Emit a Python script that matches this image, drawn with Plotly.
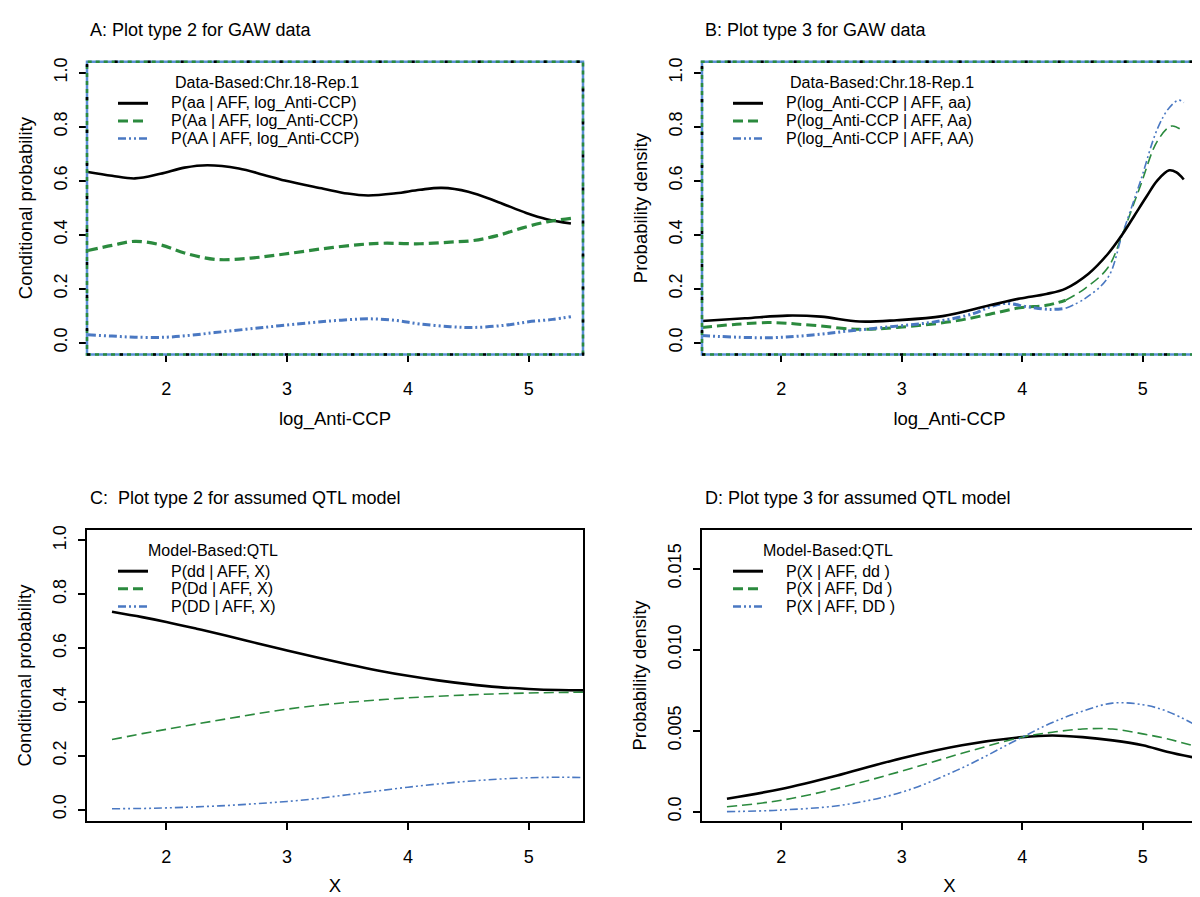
import plotly.graph_objects as go

W, H = 1200, 897
FONT = "Liberation Sans, Arial, Helvetica, sans-serif"
BLACK = "#000000"
GREEN = "#2b8a3e"
BLUE = "#4a78c2"

# ---------------- Panel A: Plot type 2 for GAW data ----------------
a_x_aa = [1.35, 1.55, 1.74, 1.95, 2.15, 2.34, 2.6, 2.8, 2.98, 3.3, 3.5, 3.67, 3.9, 4.1, 4.28, 4.5, 4.75, 4.98, 5.15, 5.35]
a_aa = [0.632, 0.618, 0.608, 0.625, 0.648, 0.657, 0.645, 0.622, 0.600, 0.570, 0.552, 0.545, 0.553, 0.566, 0.573, 0.559, 0.520, 0.480, 0.457, 0.441]
a_x_Aa = [1.35, 1.55, 1.74, 1.95, 2.15, 2.41, 2.7, 2.98, 3.3, 3.6, 3.8, 4.1, 4.35, 4.54, 4.74, 4.95, 5.15, 5.35]
a_Aa = [0.341, 0.360, 0.375, 0.362, 0.332, 0.308, 0.313, 0.328, 0.348, 0.363, 0.368, 0.366, 0.372, 0.378, 0.396, 0.425, 0.447, 0.460]
a_x_AA = [1.35, 1.55, 1.74, 2.0, 2.2, 2.4, 2.8, 3.2, 3.45, 3.67, 3.9, 4.1, 4.35, 4.54, 4.8, 5.0, 5.2, 5.35]
a_AA = [0.029, 0.024, 0.020, 0.020, 0.027, 0.037, 0.056, 0.074, 0.083, 0.088, 0.082, 0.069, 0.059, 0.056, 0.064, 0.077, 0.086, 0.096]

# ---------------- Panel B: Plot type 3 for GAW data ----------------
b_x_aa = [1.34, 1.7, 2.05, 2.33, 2.65, 2.96, 3.34, 3.73, 3.98, 4.2, 4.36, 4.55, 4.71, 4.83, 4.93, 5.03, 5.12, 5.22, 5.28, 5.34]
b_aa = [0.080, 0.090, 0.100, 0.096, 0.078, 0.083, 0.098, 0.138, 0.163, 0.180, 0.200, 0.255, 0.328, 0.400, 0.470, 0.540, 0.600, 0.638, 0.630, 0.604]
b_x_Aa = [1.34, 1.89, 2.26, 2.65, 2.96, 3.4, 3.73, 3.98, 4.2, 4.36, 4.52, 4.71, 4.83, 4.98, 5.12, 5.24, 5.34]
b_Aa = [0.056, 0.074, 0.064, 0.049, 0.056, 0.077, 0.105, 0.129, 0.138, 0.157, 0.200, 0.277, 0.400, 0.580, 0.745, 0.802, 0.781]
b_x_AA = [1.34, 1.89, 2.26, 2.58, 2.96, 3.28, 3.6, 3.73, 3.86, 4.05, 4.23, 4.36, 4.52, 4.71, 4.83, 4.98, 5.12, 5.22, 5.30, 5.34]
b_AA = [0.026, 0.018, 0.028, 0.044, 0.061, 0.077, 0.108, 0.132, 0.145, 0.132, 0.123, 0.127, 0.163, 0.240, 0.400, 0.597, 0.790, 0.870, 0.898, 0.889]
b_thick_until = 4.4  # left part of the curves drawn thicker in the original

# ---------------- Panel C: Plot type 2 for assumed QTL model ----------------
c_x = [1.55, 1.8, 2.0, 2.25, 2.5, 2.75, 3.0, 3.25, 3.5, 3.75, 4.0, 4.25, 4.5, 4.75, 5.0, 5.25, 5.45]
c_dd = [0.735, 0.715, 0.697, 0.672, 0.646, 0.618, 0.591, 0.565, 0.540, 0.517, 0.497, 0.480, 0.466, 0.455, 0.448, 0.444, 0.443]
c_Dd = [0.260, 0.282, 0.298, 0.318, 0.337, 0.356, 0.373, 0.387, 0.398, 0.407, 0.415, 0.421, 0.426, 0.430, 0.433, 0.435, 0.436]
c_DD = [0.003, 0.004, 0.006, 0.010, 0.015, 0.022, 0.030, 0.041, 0.055, 0.069, 0.083, 0.095, 0.105, 0.113, 0.118, 0.120, 0.119]

# ---------------- Panel D: Plot type 3 for assumed QTL model ----------------
d_x = [1.55, 2.0, 2.5, 3.0, 3.5, 4.0, 4.25, 4.5, 4.75, 5.0, 5.2, 5.45]
d_dd = [0.0008, 0.0014, 0.0023, 0.0033, 0.0041, 0.0046, 0.0047, 0.0046, 0.0044, 0.0041, 0.0037, 0.0033]
d_Dd = [0.0003, 0.0007, 0.0015, 0.0025, 0.0036, 0.0046, 0.0049, 0.0051, 0.0051, 0.0048, 0.0045, 0.0040]
d_DD = [0.0000, 0.0001, 0.0004, 0.0012, 0.0027, 0.0046, 0.0055, 0.0062, 0.0067, 0.0066, 0.0062, 0.0053]

# ---------------- text ----------------
titles = ["A: Plot type 2 for GAW data", "B: Plot type 3 for GAW data",
          "C:  Plot type 2 for assumed QTL model", "D: Plot type 3 for assumed QTL model"]
legend_titles = ["Data-Based:Chr.18-Rep.1", "Data-Based:Chr.18-Rep.1", "Model-Based:QTL", "Model-Based:QTL"]
legend_labels = [
    ["P(aa | AFF, log_Anti-CCP)", "P(Aa | AFF, log_Anti-CCP)", "P(AA | AFF, log_Anti-CCP)"],
    ["P(log_Anti-CCP | AFF, aa)", "P(log_Anti-CCP | AFF, Aa)", "P(log_Anti-CCP | AFF, AA)"],
    ["P(dd | AFF, X)", "P(Dd | AFF, X)", "P(DD | AFF, X)"],
    ["P(X | AFF, dd )", "P(X | AFF, Dd )", "P(X | AFF, DD )"],
]
x_titles = ["log_Anti-CCP", "log_Anti-CCP", "X", "X"]
y_titles = ["Conditional probability", "Probability density", "Conditional probability", "Probability density"]
x_ticks = [2, 3, 4, 5]
prob_ticks = [0.0, 0.2, 0.4, 0.6, 0.8, 1.0]
prob_ticktext = ["0.0", "0.2", "0.4", "0.6", "0.8", "1.0"]
dens_ticks = [0.0, 0.005, 0.010, 0.015]
dens_ticktext = ["0.0", "0.005", "0.010", "0.015"]

# ---------------- layout geometry (pixels) ----------------
boxes = {  # left, right, top, bottom
    1: (79, 575, 50, 344),
    2: (694, 1189, 50, 344),
    3: (79, 575, 520, 813),
    4: (694, 1189, 520, 813),
}
x_range = [1.343, 5.45]
y_ranges = {1: [-0.044, 1.04], 2: [-0.044, 1.04], 3: [-0.044, 1.04], 4: [-0.0006, 0.0174]}

def px(x):
    return x / W

def py(y):
    return 1 - y / H

DASH_G = "10px,5px"
DASH_B = "8px,3px,2px,3px,2px,3px"

fig = go.Figure()

def add(xs, ys, k, color, width, dash):
    sfx = "" if k == 1 else str(k)
    fig.add_trace(go.Scatter(x=xs, y=ys, mode="lines", xaxis="x" + sfx, yaxis="y" + sfx,
                             line=dict(color=color, width=width, dash=dash, shape="spline", smoothing=1.0),
                             showlegend=False, hoverinfo="skip"))

# Panel A
add(a_x_aa, a_aa, 1, BLACK, 2.6, "solid")
add(a_x_Aa, a_Aa, 1, GREEN, 3.2, DASH_G)
add(a_x_AA, a_AA, 1, BLUE, 3.0, DASH_B)
# Panel B (thick left part, thin right part)
for xs, ys, col, dash in [(b_x_Aa, b_Aa, GREEN, DASH_G), (b_x_AA, b_AA, BLUE, DASH_B)]:
    n = max(i for i, v in enumerate(xs) if v <= b_thick_until)
    add(xs[:n + 1], ys[:n + 1], 2, col, 3.0, dash)
    add(xs[n:], ys[n:], 2, col, 1.6, dash)
add(b_x_aa, b_aa, 2, BLACK, 2.6, "solid")
# Panel C
add(c_x, c_dd, 3, BLACK, 2.6, "solid")
add(c_x, c_Dd, 3, GREEN, 1.6, DASH_G)
add(c_x, c_DD, 3, BLUE, 1.6, DASH_B)
# Panel D
add(d_x, d_dd, 4, BLACK, 2.6, "solid")
add(d_x, d_Dd, 4, GREEN, 1.6, DASH_G)
add(d_x, d_DD, 4, BLUE, 1.6, DASH_B)

layout = dict(width=W, height=H, margin=dict(l=0, r=0, t=0, b=0),
              paper_bgcolor="white", plot_bgcolor="white",
              font=dict(family=FONT, color="black", size=17), showlegend=False)

shapes = []
annotations = []
for k, (l, r, t, b) in boxes.items():
    sfx = "" if k == 1 else str(k)
    top_row = k in (1, 2)
    layout["xaxis" + sfx] = dict(
        domain=[px(l), px(r)], range=x_range, anchor="y" + sfx,
        tickvals=x_ticks, ticks="outside", ticklen=7, tickwidth=1.6, tickcolor="black",
        tickfont=dict(size=18), ticklabelstandoff=11,
        showgrid=False, zeroline=False,
        showline=not top_row, mirror=True, linecolor="black", linewidth=2,
        title=dict(text=x_titles[k - 1], font=dict(size=18.5), standoff=13),
    )
    layout["yaxis" + sfx] = dict(
        domain=[py(b), py(t)], range=y_ranges[k], anchor="x" + sfx,
        tickvals=prob_ticks if k != 4 else dens_ticks,
        ticktext=prob_ticktext if k != 4 else dens_ticktext,
        tickangle=-90, ticks="outside", ticklen=7, tickwidth=1.6, tickcolor="black",
        tickfont=dict(size=18), ticklabelstandoff=5,
        showgrid=False, zeroline=False,
        showline=not top_row, mirror=True, linecolor="black", linewidth=2,
        title=dict(text=y_titles[k - 1], font=dict(size=18.5), standoff=13),
    )
    if top_row:
        for col, dash, w in [("#5b8fd6", "solid", 2.5), (GREEN, "4px,4px", 2.5), ("black", "3px,30px", 2.5)]:
            shapes.append(dict(type="rect", xref="x" + sfx + " domain", yref="y" + sfx + " domain",
                               x0=0, x1=1, y0=0, y1=1, line=dict(color=col, width=w, dash=dash), layer="above"))
    # panel title
    annotations.append(dict(text=titles[k - 1], xref="paper", yref="paper", x=px(l + 1), y=py(t - 32),
                            xanchor="left", yanchor="middle", showarrow=False, font=dict(size=18)))
    # legend (title, samples, labels)
    leg_left = l + 31
    text_left = l + 82
    title_left = text_left + (4 if top_row else -23)
    ly0 = t + 24
    annotations.append(dict(text=legend_titles[k - 1], xref="paper", yref="paper", x=px(title_left), y=py(ly0 - 3),
                            xanchor="left", yanchor="middle", showarrow=False, font=dict(size=16)))
    styles = [(BLACK, "solid", 3), (GREEN, DASH_G, 3), (BLUE, DASH_B, 2.5)]
    for i, (lab, (col, dash, w)) in enumerate(zip(legend_labels[k - 1], styles)):
        yy = ly0 + 17.7 * (i + 1)
        shapes.append(dict(type="line", xref="paper", yref="paper", x0=px(leg_left), x1=px(leg_left + 30),
                           y0=py(yy), y1=py(yy), line=dict(color=col, width=w, dash=dash)))
        annotations.append(dict(text=lab, xref="paper", yref="paper", x=px(text_left), y=py(yy),
                                xanchor="left", yanchor="middle", showarrow=False, font=dict(size=16)))

layout["shapes"] = shapes
layout["annotations"] = annotations
fig.update_layout(**layout)
fig.write_html("out.html")
